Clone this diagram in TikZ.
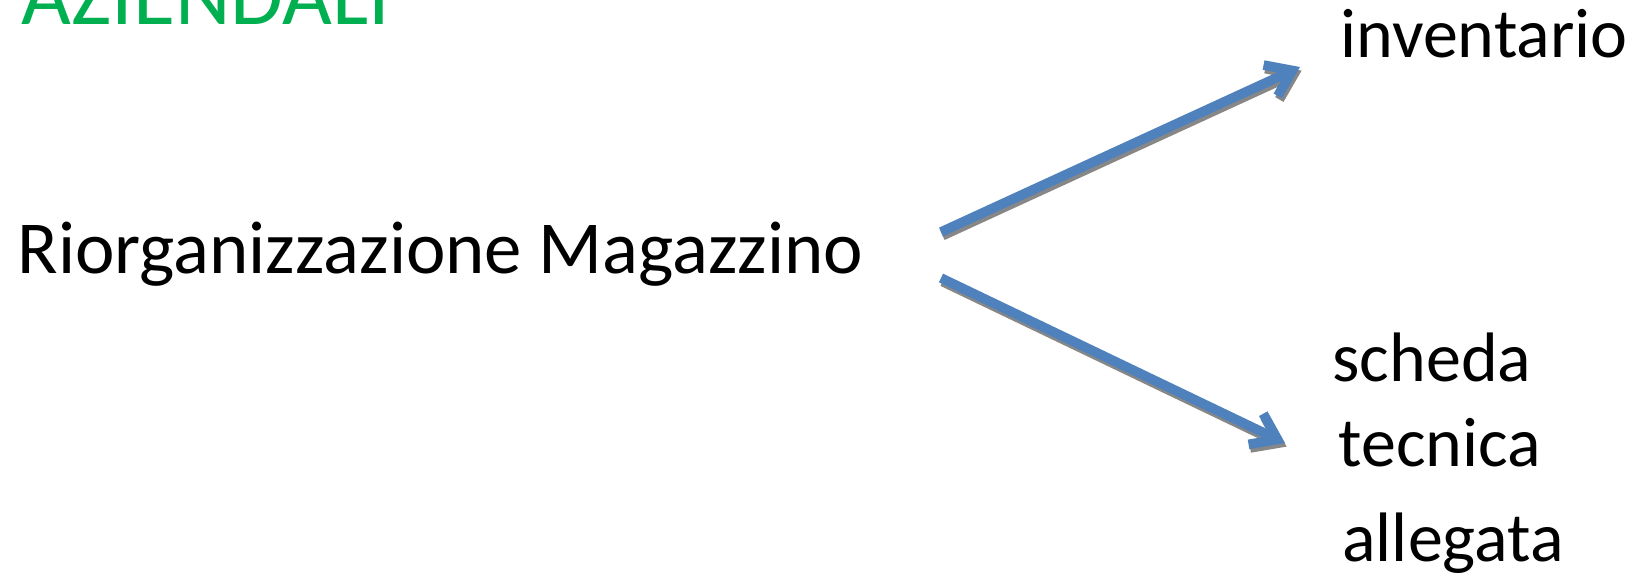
\documentclass[tikz,border=0pt]{standalone}
\usepackage{fontspec}
\setmainfont{Carlito}
\usepackage{tikz}
\usetikzlibrary{
    positioning,
    arrows.meta
}
\definecolor{ArrowBlue}{RGB}{79,129,189}
\definecolor{TitleGreen}{RGB}{0,176,80}
\definecolor{ShadowGray}{RGB}{135,135,135}

\begin{document}
\begin{tikzpicture}[
    x=0.5pt, y=-0.5pt,
    txt/.style={inner sep=0pt, anchor=base west, font=\fontsize{35}{42}\selectfont},
    big/.style={txt, font=\fontsize{37.4}{45}\selectfont},
    ttl/.style={inner sep=0pt, anchor=base west, text=TitleGreen, font=\fontsize{43}{52}\selectfont},
    arr/.style={line width=4.8pt, color=ArrowBlue, -{Straight Barb[length=12pt, width=17pt]}},
    shd/.style={arr, color=ShadowGray, transform canvas={shift={(0.8pt,-1.8pt)}}},
]
\useasboundingbox (0,0) rectangle (1637,578);

\node[ttl] (title) at (21,25) {AZIENDALI};
\node[big] (main) at (17,273) {Riorganizzazione Magazzino};
\node[txt] (inv) at (1340,57) {inventario};
\node[txt] (sch) at (1332,381) {scheda};
\node[txt] (tec) at (1338,466) {tecnica};
\node[txt] (all) at (1342,561) {allegata};

% estremi delle frecce
\coordinate (up0) at (941,232);
\coordinate (up1) at (1300,67);
\coordinate (dn0) at (941,278);
\coordinate (dn1) at (1285,443);

\draw[shd] (up0) -- (up1);
\draw[shd] (dn0) -- (dn1);
\draw[arr] (up0) -- (up1);
\draw[arr] (dn0) -- (dn1);
\end{tikzpicture}
\end{document}
